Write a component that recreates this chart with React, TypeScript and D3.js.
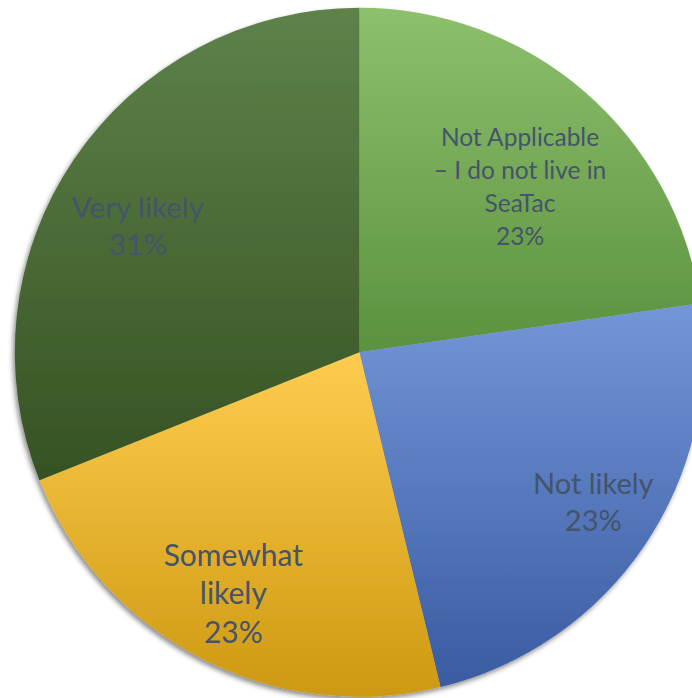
import { useRef, useEffect } from "react"
import * as d3 from "d3"

// survey answers (counts), clockwise from 12 o'clock
const categories = ["Not Applicable – I do not live in SeaTac", "Not likely", "Somewhat likely", "Very likely"]
const counts = [30, 31, 30, 41]
const labelLines = [["Not Applicable", "– I do not live in", "SeaTac"], ["Not likely"], ["Somewhat", "likely"], ["Very likely"]]

// gradient stops per slice (top, bottom)
const sliceColors = [
  ["#8dc06d", "#5b913e"],
  ["#7396d8", "#3a5ba1"],
  ["#ffcc4f", "#cd9911"],
  ["#5e824a", "#355223"],
]

export default function App() {
  const svgRef = useRef<SVGSVGElement>(null)

  function drawChart() {
    const width = 692
    const height = 698
    const cx = 359.3
    const cy = 352.3
    const radius = 344.5
    const fontFamily = "Lato, 'Open Sans', sans-serif"
    const textColor = "#44546a"

    // label placement tweaks (fraction of radius, angle shift in degrees, font size, line height)
    const labelRadius = [0.669, 0.807, 0.79, 0.74]
    const labelShift = [3.3, -1.4, 0.3, -4.4]
    const fontSizes = [24.5, 29, 30, 29.5]
    const lineHeights = [33, 37, 38.5, 37]

    const svg = d3.select(svgRef.current).attr("width", width).attr("height", height)
    svg.selectAll("*").remove()

    const defs = svg.append("defs")
    sliceColors.forEach((c, i) => {
      const g = defs
        .append("linearGradient")
        .attr("id", `grad${i}`)
        .attr("x1", 0)
        .attr("y1", 0)
        .attr("x2", 0)
        .attr("y2", 1)
      g.append("stop").attr("offset", "0%").attr("stop-color", c[0])
      g.append("stop").attr("offset", "100%").attr("stop-color", c[1])
    })
    const filter = defs
      .append("filter")
      .attr("id", "shadow")
      .attr("x", "-10%")
      .attr("y", "-10%")
      .attr("width", "120%")
      .attr("height", "120%")
    filter
      .append("feDropShadow")
      .attr("dx", -2)
      .attr("dy", 3)
      .attr("stdDeviation", 2.5)
      .attr("flood-color", "#000")
      .attr("flood-opacity", 0.45)

    const pie = d3
      .pie<number>()
      .sort(null)
      .value((d) => d)
    const arcs = pie(counts)
    const total = d3.sum(counts)

    const arc = d3.arc<d3.PieArcDatum<number>>().innerRadius(0).outerRadius(radius)

    const chart = svg.append("g").attr("transform", `translate(${cx}, ${cy})`)

    chart
      .append("g")
      .attr("filter", "url(#shadow)")
      .selectAll("path")
      .data(arcs)
      .enter()
      .append("path")
      .attr("d", arc)
      .attr("fill", (d, i) => `url(#grad${i})`)
      .attr("stroke", "none")
      .append("title")
      .text((d, i) => categories[i])

    // Labels
    const labels = chart
      .selectAll("text.label")
      .data(arcs)
      .enter()
      .append("text")
      .attr("class", "label")
      .attr("text-anchor", "middle")
      .style("font-family", fontFamily)
      .style("font-size", (d, i) => `${fontSizes[i]}px`)
      .attr("fill", textColor)

    labels.each(function (d, i) {
      const r = radius * labelRadius[i]
      const a = (d.startAngle + d.endAngle) / 2 + (labelShift[i] * Math.PI) / 180
      const lx = r * Math.sin(a)
      const ly = -r * Math.cos(a)
      const lines = [...labelLines[i], `${Math.round((d.value / total) * 100)}%`]
      const lh = lineHeights[i]
      const top = ly - ((lines.length - 1) * lh) / 2 + fontSizes[i] * 0.36
      const t = d3.select(this)
      lines.forEach((line, j) => {
        t.append("tspan")
          .attr("x", lx)
          .attr("y", top + j * lh)
          .text(line)
      })
    })
  }

  useEffect(() => {
    drawChart()
  }, [svgRef])

  return (
    <div style={{ position: "absolute", left: 0, top: 0 }}>
      <svg ref={svgRef} style={{ display: "block" }}></svg>
    </div>
  )
}
